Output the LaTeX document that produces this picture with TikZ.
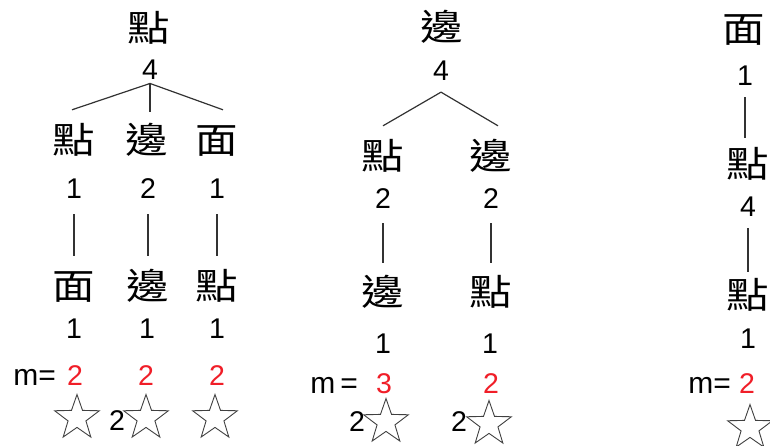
\documentclass[tikz,border=0pt]{standalone}
\usepackage{fontspec}
\setmainfont{Liberation Sans}
\newfontfamily\cjk{Noto Sans CJK TC}
\usetikzlibrary{shapes.geometric,calc}
\definecolor{mred}{RGB}{240,30,40}
\definecolor{edgecol}{RGB}{50,50,50}
\newcommand{\hz}[1]{\scalebox{1.18}[1]{#1}}
\tikzset{
  cjkn/.style={inner sep=0pt, text height=30pt, text depth=6pt, font=\cjk\fontsize{36}{40}\selectfont},
  num/.style={inner sep=0pt, text height=20.5pt, text depth=0pt, font=\fontsize{28.5}{32}\selectfont},
  rnum/.style={num, text=mred},
  mlab/.style={inner sep=0pt, text height=20.5pt, text depth=0pt, anchor=east, font=\fontsize{30}{34}\selectfont},
  starn/.style={star, star points=5, star point ratio=2.5, draw=black!75, line width=0.9pt, minimum size=47pt, inner sep=0pt},
  edge/.style={draw=edgecol, line width=1.2pt}
}
\begin{document}
\begin{tikzpicture}[x=1pt,y=-1pt]
\useasboundingbox (0,0) rectangle (770,445);
% ---------- tree 1 ----------
\node[cjkn] (r1) at (149,29) {\hz{點}};
\node[num] (r1n) at (150,69) {4};
\node[cjkn] (a1) at (74,141) {\hz{點}};
\node[cjkn] (a2) at (147,141) {\hz{邊}};
\node[cjkn] (a3) at (217,141) {\hz{面}};
\node[num] (a1n) at (74,188) {1};
\node[num] (a2n) at (148,188) {2};
\node[num] (a3n) at (217,188) {1};
\node[cjkn] (b1) at (74,287) {\hz{面}};
\node[cjkn] (b2) at (148,287) {\hz{邊}};
\node[cjkn] (b3) at (217,287) {\hz{點}};
\node[num] (b1n) at (74,328) {1};
\node[num] (b2n) at (147,328) {1};
\node[num] (b3n) at (217,328) {1};
\node[mlab] (m1) at (56,375) {m=};
\node[rnum] (m1a) at (75,375) {2};
\node[rnum] (m1b) at (146,375) {2};
\node[rnum] (m1c) at (217,375) {2};
\node[starn] (s1a) at (77,418) {};
\node[starn] (s1b) at (146,418) {};
\node[starn] (s1c) at (215,418) {};
\node[num] (k1b) at (117,420) {2};
\draw[edge] ($(r1n.south)+(0,4)$) -- ($(a1.north)+(-2,-13)$);
\draw[edge] ($(r1n.south)+(0,4)$) -- ($(a2.north)+(3,-11)$);
\draw[edge] ($(r1n.south)+(0,4)$) -- ($(a3.north)+(6,-13)$);
\draw[edge] ($(a1n.south)+(0,16)$) -- ($(b1.north)+(0,-13)$);
\draw[edge] ($(a2n.south)+(0,16)$) -- ($(b2.north)+(0,-13)$);
\draw[edge] ($(a3n.south)+(0,16)$) -- ($(b3.north)+(0,-13)$);
% ---------- tree 2 ----------
\node[cjkn] (r2) at (442,28) {\hz{邊}};
\node[num] (r2n) at (441,70) {4};
\node[cjkn] (c1) at (383,157) {\hz{點}};
\node[cjkn] (c2) at (491,157) {\hz{邊}};
\node[num] (c1n) at (383,198) {2};
\node[num] (c2n) at (491,198) {2};
\node[cjkn] (d1) at (383,293) {\hz{邊}};
\node[cjkn] (d2) at (491,293) {\hz{點}};
\node[num] (d1n) at (383,343) {1};
\node[num] (d2n) at (490,343) {1};
\node[mlab] (m2) at (358,383) {m\,=};
\node[rnum] (m2a) at (384,383) {3};
\node[rnum] (m2b) at (491,383) {2};
\node[starn] (s2a) at (386,422) {};
\node[starn] (s2b) at (489,424) {};
\node[num] (k2a) at (357,421) {2};
\node[num] (k2b) at (459,421) {2};
\draw[edge] ($(r2n.south)+(0,11.7)$) -- ($(c1.north)+(0,-13)$);
\draw[edge] ($(r2n.south)+(0,11.7)$) -- ($(c2.north)+(7,-13)$);
\draw[edge] ($(c1n.south)+(0,14.7)$) -- ($(d1.north)+(0,-12)$);
\draw[edge] ($(c2n.south)+(0,14.7)$) -- ($(d2.north)+(0,-12)$);
% ---------- tree 3 ----------
\node[cjkn] (e1) at (744,30) {\hz{面}};
\node[num] (e1n) at (745,75) {1};
\node[cjkn] (e2) at (748,165) {\hz{點}};
\node[num] (e2n) at (748,206) {4};
\node[cjkn] (e3) at (748,296) {\hz{點}};
\node[num] (e3n) at (748,338) {1};
\node[mlab] (m3) at (731,383) {m=};
\node[rnum] (m3a) at (747,383) {2};
\node[starn] (s3) at (750,428) {};
\draw[edge] ($(e1n.south)+(0,11.7)$) -- ($(e2.north)+(-3,-9)$);
\draw[edge] ($(e2n.south)+(0,11.7)$) -- ($(e3.north)+(0,-6)$);
\end{tikzpicture}
\end{document}
